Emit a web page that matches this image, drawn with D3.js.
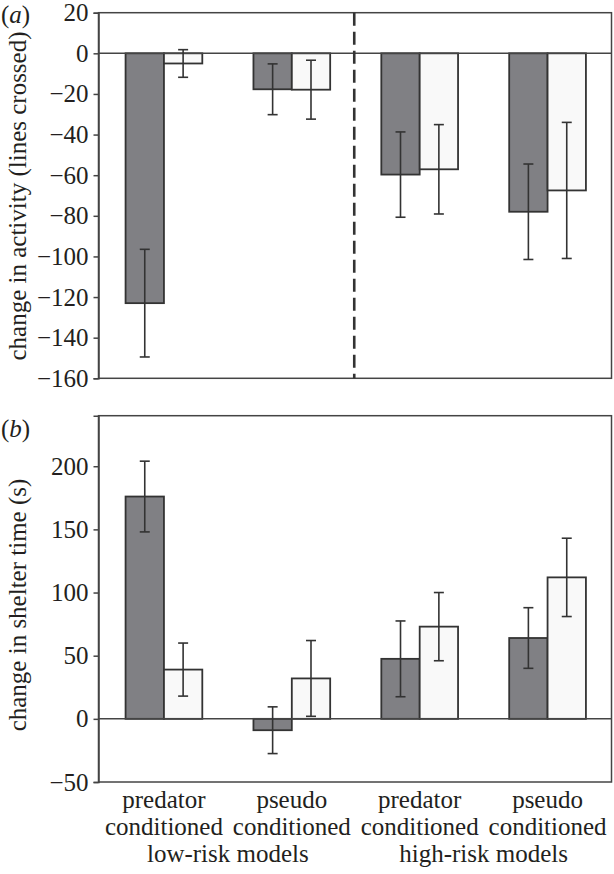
<!DOCTYPE html>
<html><head><meta charset="utf-8">
<script src="https://cdn.jsdelivr.net/npm/d3@7/dist/d3.min.js"></script>
<style>
html,body{margin:0;padding:0;background:#fff;}
svg{display:block;}
text{font-family:"Liberation Serif","Times New Roman","DejaVu Serif",serif;fill:#231f20;}
</style></head>
<body>
<svg id="chart" width="614" height="874"></svg>
<script>
// ---- data ----
const categories = ["predator conditioned low", "pseudo conditioned low", "predator conditioned high", "pseudo conditioned high"];
const catLine1 = ["predator", "pseudo", "predator", "pseudo"];
const catLine2 = ["conditioned", "conditioned", "conditioned", "conditioned"];
const groupLabels = ["low-risk models", "high-risk models"];
const series = ["dark", "light"];

// panel (a): change in activity (lines crossed)
const activityDark = [-123, -17.7, -59.7, -78];
const activityDarkErr = [26.5, 12.5, 21, 23.5];
const activityLight = [-5, -17.9, -57.1, -67.5];
const activityLightErr = [6.8, 14.5, 22, 33.5];
const activityTicks = [20, 0, -20, -40, -60, -80, -100, -120, -140, -160];

// panel (b): change in shelter time (s)
const shelterDark = [176, -9, 47.5, 64];
const shelterDarkErr = [28, 18.5, 30, 24];
const shelterLight = [39, 32, 73, 112];
const shelterLightErr = [21, 30, 27, 31];
const shelterTicks = [200, 150, 100, 50, 0, -50];

// ---- layout ----
const svg = d3.select("#chart");
const FONT = "'Liberation Serif','Times New Roman',serif";
const FS = 25;
const left = 98.5, right = 611.5;
const fillColor = {dark: "#808084", light: "#f9f9f9"};

const x = d3.scaleBand().domain(categories).range([100, right]).padding(0);
const xs = d3.scaleBand().domain(series).range([x.bandwidth() * 0.2, x.bandwidth() * 0.8]).padding(0);

function panel(opts) {
  const {top, bottom, domain, ticks, dark, darkErr, light, lightErr, label, labelY, tag, tagY, dashed} = opts;
  const y = d3.scaleLinear().domain(domain).range([bottom, top]);
  const g = svg.append("g");

  // frame
  g.append("rect").attr("x", left).attr("y", top).attr("width", right - left).attr("height", bottom - top)
    .attr("fill", "none").attr("stroke", "#444").attr("stroke-width", 1.5);

  // bars
  const rows = [];
  categories.forEach((c, i) => {
    rows.push({c, s: "dark", v: dark[i], e: darkErr[i]});
    rows.push({c, s: "light", v: light[i], e: lightErr[i]});
  });
  g.selectAll("rect.bar").data(rows).enter().append("rect").attr("class", "bar")
    .attr("x", d => x(d.c) + xs(d.s))
    .attr("width", xs.bandwidth())
    .attr("y", d => y(Math.max(0, d.v)))
    .attr("height", d => Math.abs(y(d.v) - y(0)))
    .attr("fill", d => fillColor[d.s])
    .attr("stroke", "#333").attr("stroke-width", 1.8);

  // zero line
  g.append("line").attr("x1", left).attr("x2", right).attr("y1", y(0)).attr("y2", y(0))
    .attr("stroke", "#444").attr("stroke-width", 1.5);

  // error bars
  const cap = 5;
  const cx = d => x(d.c) + xs(d.s) + xs.bandwidth() / 2;
  const eb = g.selectAll("g.err").data(rows).enter().append("g").attr("class", "err")
    .attr("stroke", "#333").attr("stroke-width", 1.6);
  eb.append("line").attr("x1", cx).attr("x2", cx)
    .attr("y1", d => y(d.v + d.e)).attr("y2", d => y(d.v - d.e));
  eb.append("line").attr("x1", d => cx(d) - cap).attr("x2", d => cx(d) + cap)
    .attr("y1", d => y(d.v + d.e)).attr("y2", d => y(d.v + d.e));
  eb.append("line").attr("x1", d => cx(d) - cap).attr("x2", d => cx(d) + cap)
    .attr("y1", d => y(d.v - d.e)).attr("y2", d => y(d.v - d.e));

  if (dashed) {
    const dx = x(categories[2]) - 1.5;
    g.append("line").attr("x1", dx).attr("x2", dx).attr("y1", top).attr("y2", bottom)
      .attr("stroke", "#333").attr("stroke-width", 2.6).attr("stroke-dasharray", "13,6");
  }

  // y axis
  const axis = d3.axisLeft(y).tickValues(ticks).tickSize(5).tickPadding(5)
    .tickFormat(d => d < 0 ? "\u2212" + Math.abs(d) : String(d));
  const ag = g.append("g").attr("transform", `translate(${left},0)`).call(axis);
  ag.attr("font-family", FONT).attr("font-size", FS);
  ag.select(".domain").attr("stroke", "#444").attr("stroke-width", 1.5);
  ag.selectAll(".tick line").attr("stroke", "#444").attr("stroke-width", 1.5);
  ag.selectAll(".tick text").attr("font-size", FS).attr("fill", "#231f20").attr("font-family", FONT);

  // y label
  g.append("text").attr("transform", `translate(26,${labelY}) rotate(-90)`)
    .attr("text-anchor", "middle").attr("font-size", FS).attr("font-family", FONT).text(label);

  // panel tag
  const t = g.append("text").attr("x", 1).attr("y", tagY).attr("font-size", FS).attr("font-family", FONT);
  t.append("tspan").text("(");
  t.append("tspan").attr("font-style", "italic").text(tag);
  t.append("tspan").text(")");
  return y;
}

panel({top: 12.7, bottom: 378.3, domain: [-160, 20], ticks: activityTicks,
  dark: activityDark, darkErr: activityDarkErr, light: activityLight, lightErr: activityLightErr,
  label: "change in activity (lines crossed)", labelY: 196, tag: "a", tagY: 23, dashed: true});

panel({top: 415.7, bottom: 782, domain: [-50, 240], ticks: shelterTicks,
  dark: shelterDark, darkErr: shelterDarkErr, light: shelterLight, lightErr: shelterLightErr,
  label: "change in shelter time (s)", labelY: 605, tag: "b", tagY: 437, dashed: false});

// x labels
const xl = svg.append("g").attr("font-family", FONT).attr("font-size", FS);
xl.selectAll("text.l1").data(categories).enter().append("text")
  .attr("x", d => x(d) + x.bandwidth() / 2).attr("y", 808).attr("text-anchor", "middle")
  .text((d, i) => catLine1[i]);
xl.selectAll("text.l2").data(categories).enter().append("text")
  .attr("x", d => x(d) + x.bandwidth() / 2).attr("y", 835).attr("text-anchor", "middle")
  .text((d, i) => catLine2[i]);
xl.selectAll("text.g").data(groupLabels).enter().append("text")
  .attr("x", (d, i) => x(categories[i * 2]) + x.bandwidth())
  .attr("y", 862).attr("text-anchor", "middle").text(d => d);
</script>
</body></html>
